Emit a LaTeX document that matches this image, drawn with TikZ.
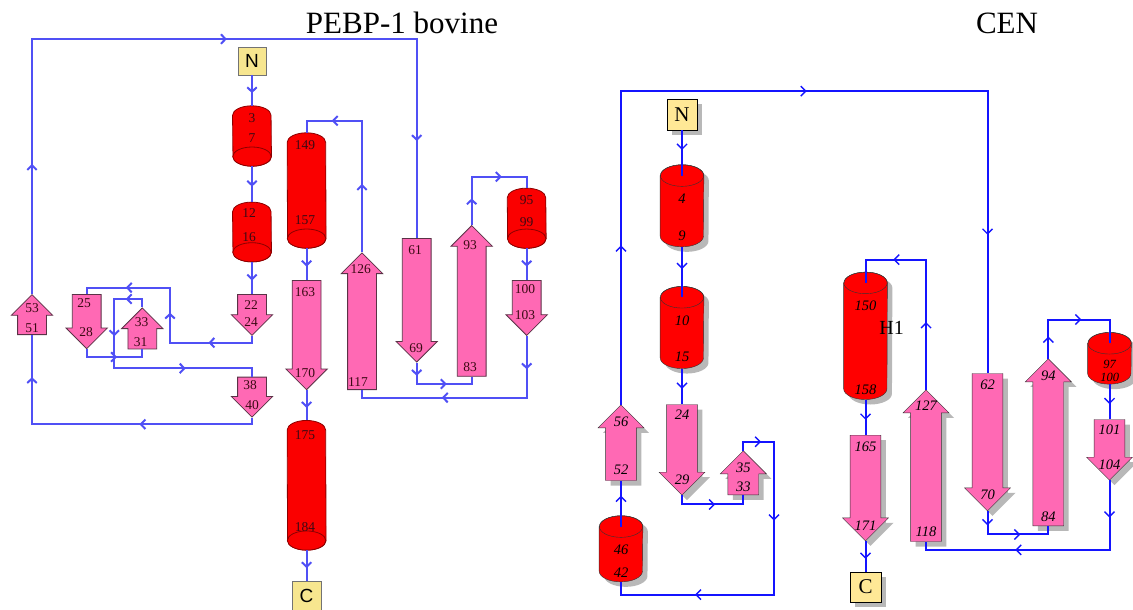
\documentclass[tikz,border=0pt]{standalone}
\usepackage{fontspec}
\setmainfont{Liberation Serif}
\newfontfamily\termsans{Liberation Sans}
\usetikzlibrary{shapes.arrows,shadows,arrows.meta}

\definecolor{lblue}{RGB}{80,80,245}
\definecolor{rblue}{RGB}{20,20,255}
\definecolor{hred}{RGB}{250,0,0}
\definecolor{spink}{RGB}{255,105,180}
\definecolor{tyellow}{RGB}{255,232,150}
\definecolor{lyellow}{RGB}{247,230,143}
\definecolor{lnumcol}{RGB}{60,10,20}

\begin{document}
\begin{tikzpicture}
  [x=1pt, y=-1pt,
   lflow/.style={color=lblue, line width=2pt},
   rflow/.style={color=rblue, line width=2pt},
   tipat/.style={pos=#1, sloped, allow upside down},
   ltip/.pic={\draw[lblue, line width=2pt, -{Straight Barb[length=4.5pt,width=9.5pt]}] (-3pt,0pt) -- (2.5pt,0pt);},
   rtip/.pic={\draw[rblue, line width=1.4pt, -{Straight Barb[length=5pt,width=10pt]}] (-3pt,0pt) -- (2.5pt,0pt);},
   rshadow/.style={drop shadow={shadow xshift=5pt, shadow yshift=-5pt, fill=black!28, opacity=1}},
   lhelix/.style={rectangle, minimum width=38.5pt, minimum height=#1, inner sep=0pt},
   rhelix/.style={rectangle, minimum width=43.3pt, minimum height=#1, inner sep=0pt},
   lcyl/.style={draw={rgb,255:red,140;green,0;blue,0}, thick, fill=hred},
   rcyl/.style={draw=black!80, fill=red},
   lsheet/.style={single arrow, draw={rgb,255:red,90;green,50;blue,70}, thick, fill=spink, inner xsep=0pt, inner ysep=14pt, single arrow head extend=6.3pt, minimum width=40.6pt, minimum height=#1, anchor=tail},
   ldown/.style={lsheet=#1, rotate=-90},
   lup/.style={lsheet=#1, rotate=90},
   rsheet/.style={single arrow, draw=black!80, fill=spink, inner xsep=0pt, inner ysep=15.2pt, single arrow head extend=7.6pt, minimum width=45.6pt, minimum height=#1, anchor=tail, rshadow},
   rdown/.style={rsheet=#1, rotate=-90},
   rup/.style={rsheet=#1, rotate=90},
   lterm/.style={rectangle, draw=black!55, fill=lyellow, minimum size=28.5pt, inner sep=0pt, font=\fontsize{19}{19}\selectfont\termsans},
   rterm/.style={rectangle, draw=black, fill=tyellow, minimum size=30.6pt, inner sep=0pt, font=\fontsize{21}{21}\selectfont, rshadow},
   lnum/.style={inner sep=0pt, text=lnumcol, font=\fontsize{13.5}{13.5}\selectfont},
   rnum/.style={inner sep=0pt, font=\fontsize{14.5}{14.5}\selectfont\itshape}]

  \useasboundingbox (0,0) rectangle (1133,610);

  %%%%%%%%%%%%%%%%%%%%%% PEBP-1 bovine %%%%%%%%%%%%%%%%%%%%%%

  \node[font=\fontsize{31}{31}\selectfont] (ttl_l) at (402,23) {PEBP-1 bovine};

  \node[lterm] (lN) at (252,61) {N};
  \node[lhelix=60]    (lh_3)   at (252,136)     {};
  \node[lhelix=59.4]  (lh_12)  at (252,232)     {};
  \node[lhelix=115]   (lh_149) at (306.6,190.5) {};
  \node[lhelix=129.3] (lh_175) at (306.6,485.3) {};
  \node[lhelix=59.7]  (lh_95)  at (526.7,218.2) {};
  \node[ldown=41]     (ls_22)  at (252,294)     {};
  \node[ldown=54.3]   (ls_25)  at (86.7,294)    {};
  \node[ldown=40]     (ls_38)  at (252,376.7)   {};
  \node[ldown=109.3]  (ls_163) at (306.6,280)   {};
  \node[ldown=123.7]  (ls_61)  at (416.7,238)   {};
  \node[ldown=55]     (ls_100) at (526.7,280)   {};
  \node[lup=41]       (ls_33)  at (142.3,349.3) {};
  \node[lup=40]       (ls_53)  at (32,335)      {};
  \node[lup=136.7]    (ls_126) at (362,390)     {};
  \node[lup=150.7]    (ls_93)  at (471.7,376.7) {};
  \node[lterm] (lC) at (306.6,595.5) {C};

  % helices seen from below
  \foreach \h in {lh_3,lh_12,lh_149,lh_175,lh_95}{
    \draw[lcyl] ([yshift=-9.6pt]\h.north west) arc[start angle=180, end angle=0, x radius=19.25pt, y radius=9.6pt]
      -- ([yshift=9.6pt]\h.south east) arc[start angle=0, end angle=-180, x radius=19.25pt, y radius=9.6pt] -- cycle;
    \draw[lcyl] ([yshift=9.6pt]\h.south) ellipse[x radius=19.25pt, y radius=9.6pt];
  }

  \foreach \t/\x/\y in {3/252/118, 7/252/138, 12/249/213, 16/249/237, 22/251/305, 24/251/321.7,
      25/84/303.3, 28/86/331.7, 33/141.7/321.7, 31/140.7/341.7, 38/250/385, 40/252/405,
      53/32/308.3, 51/32/328.3, 149/305/145, 157/305/220, 163/305/292.3, 170/305/373.3,
      126/360.7/269.3, 117/358/381.7, 61/415/250, 69/416/348.3, 93/470/245, 83/470/366.7,
      95/526.7/200, 99/526.7/221.7, 100/525/289.3, 103/525/315, 175/305/435, 184/305/526.7}
    \node[lnum] (lt_\t) at (\x,\y) {\t};

  \draw[lflow] (lN.south) -- pic[tipat=.5]{ltip} (lh_3.north);
  \draw[lflow] (lh_3.south) -- pic[tipat=.5]{ltip} (lh_12.north);
  \draw[lflow] (lh_12.south) -- pic[tipat=.5]{ltip} (ls_22.tail);
  \draw[lflow] (ls_22.tip) -- ++(0,6.7) -| pic[tipat=.25]{ltip} pic[tipat=.75]{ltip} ++(-82,-55)
    -| pic[tipat=.25]{ltip} (ls_25.tail);
  \draw[lflow] (ls_25.tip) -- ++(0,7.7) -| pic[tipat=.25]{ltip} (ls_33.tail);
  \draw[lflow] (ls_33.tip) -- ++(0,-8.3) -| pic[tipat=.25]{ltip} pic[tipat=.75]{ltip} ++(-28,69.3)
    -| pic[tipat=.25]{ltip} (ls_38.tail);
  \draw[lflow] (ls_38.tip) -- ++(0,6.6) -| pic[tipat=.25]{ltip} pic[tipat=.75]{ltip} (ls_53.tail);
  \draw[lflow] (ls_53.tip) -- pic[tipat=.5]{ltip} ++(0,-255) -| pic[tipat=.25]{ltip} pic[tipat=.75]{ltip} (ls_61.tail);
  \draw[lflow] (ls_61.tip) -- pic[tipat=.5]{ltip} ++(0,21.3) -| pic[tipat=.25]{ltip} (ls_93.tail);
  \draw[lflow] (ls_93.tip) -- pic[tipat=.5]{ltip} ++(0,-48.3) -| pic[tipat=.25]{ltip} (lh_95.north);
  \draw[lflow] (lh_95.south) -- pic[tipat=.5]{ltip} (ls_100.tail);
  \draw[lflow] (ls_100.tip) -- pic[tipat=.5]{ltip} ++(0,61.7) -| pic[tipat=.25]{ltip} (ls_126.tail);
  \draw[lflow] (ls_126.tip) -- pic[tipat=.5]{ltip} ++(0,-131.6) -| pic[tipat=.25]{ltip} (lh_149.north);
  \draw[lflow] (lh_149.south) -- pic[tipat=.5]{ltip} (ls_163.tail);
  \draw[lflow] (ls_163.tip) -- pic[tipat=.5]{ltip} (lh_175.north);
  \draw[lflow] (lh_175.south) -- pic[tipat=.5]{ltip} (lC.north);

  %%%%%%%%%%%%%%%%%%%%%% CEN %%%%%%%%%%%%%%%%%%%%%%

  \node[font=\fontsize{31}{31}\selectfont] (ttl_r) at (1007,23) {CEN};

  \node[rterm] (rN) at (682,114.7) {N};
  \node[rhelix=81.7]  (rh_4)   at (682,205.8)    {};
  \node[rhelix=81.7]  (rh_10)  at (682,327.5)    {};
  \node[rhelix=65.7]  (rh_46)  at (621,548.8)    {};
  \node[rhelix=127]   (rh_150) at (865.5,335.8)  {};
  \node[rhelix=51.3]  (rh_97)  at (1109.5,358.3) {};
  \node[rdown=90.7]   (rs_24)  at (682,404.3)    {};
  \node[rdown=105.7]  (rs_165) at (865.5,435)    {};
  \node[rdown=137.4]  (rs_62)  at (987.5,373.3)  {};
  \node[rdown=60.7]   (rs_101) at (1109.5,419.3) {};
  \node[rup=44]       (rs_35)  at (743.3,495)    {};
  \node[rup=75.7]     (rs_56)  at (621,480.7)    {};
  \node[rup=151.7]    (rs_127) at (926,541.7)    {};
  \node[rup=167]      (rs_94)  at (1048.3,526)   {};
  \node[rterm] (rC) at (865.5,587) {C};

  % helices seen from above
  \foreach \h in {rh_4,rh_10,rh_46,rh_150,rh_97}{
    \draw[rcyl, rshadow] ([yshift=-10.8pt]\h.north west) -- ([yshift=10.8pt]\h.south west)
      arc[start angle=180, end angle=360, x radius=21.65pt, y radius=10.8pt] -- ([yshift=-10.8pt]\h.north east)
      arc[start angle=0, end angle=180, x radius=21.65pt, y radius=10.8pt] -- cycle;
    \draw[draw=black!80] ([yshift=-10.8pt]\h.north) ellipse[x radius=21.65pt, y radius=10.8pt];
  }

  \node[font=\fontsize{20}{20}\selectfont] (h_1) at (891.7,328.3) {H1};

  \foreach \t/\x/\y in {4/682/198.3, 9/682/236, 10/682/320.7, 15/682/357, 24/682/415, 29/682/479.3,
      35/743.3/467.7, 33/743.3/486.7, 46/621/550, 42/621/572.7, 56/621/421.7, 52/621/470,
      150/865.5/305.7, 158/865.5/389.3, 165/865.5/446.7, 171/865.5/526, 127/926/405.7, 118/926/531.7,
      62/987.5/385, 70/987.5/495, 94/1048.3/376, 84/1048.3/516.7, 101/1109.5/430, 104/1109.5/464.3}
    \node[rnum] (rt_\t) at (\x,\y) {\t};
  \node[rnum, font=\fontsize{12.5}{12.5}\selectfont\itshape] (rt_97) at (1109.7,364) {97};
  \node[rnum, font=\fontsize{12.5}{12.5}\selectfont\itshape] (rt_100) at (1109.7,377) {100};

  \draw[rflow] (rN.south) -- pic[tipat=.5]{rtip} (rh_4.north) -- ([yshift=-10.8pt]rh_4.north);
  \draw[rflow] (rh_4.south) -- pic[tipat=.5]{rtip} (rh_10.north) -- ([yshift=-10.8pt]rh_10.north);
  \draw[rflow] (rh_10.south) -- pic[tipat=.5]{rtip} (rs_24.tail);
  \draw[rflow] (rs_24.tip) -- ++(0,9) -| pic[tipat=.25]{rtip} (rs_35.tail);
  \draw[rflow] (rs_35.tip) -- ++(0,-8.7) -| pic[tipat=.25]{rtip} pic[tipat=.75]{rtip} ++(30.7,152.7)
    -| pic[tipat=.25]{rtip} (rh_46.south);
  \draw[rflow] ([yshift=-10.8pt]rh_46.north) -- (rh_46.north) -- pic[tipat=.5]{rtip} (rs_56.tail);
  \draw[rflow] (rs_56.tip) -- pic[tipat=.5]{rtip} ++(0,-313.3) -| pic[tipat=.25]{rtip} pic[tipat=.75]{rtip} (rs_62.tail);
  \draw[rflow] (rs_62.tip) -- pic[tipat=.5]{rtip} ++(0,23.3) -| pic[tipat=.25]{rtip} (rs_94.tail);
  \draw[rflow] (rs_94.tip) -- pic[tipat=.5]{rtip} ++(0,-39) -| pic[tipat=.25]{rtip} (rh_97.north)
    -- ([yshift=-10.8pt]rh_97.north);
  \draw[rflow] (rh_97.south) -- pic[tipat=.5]{rtip} (rs_101.tail);
  \draw[rflow] (rs_101.tip) -- pic[tipat=.5]{rtip} ++(0,69.3) -| pic[tipat=.25]{rtip} (rs_127.tail);
  \draw[rflow] (rs_127.tip) -- pic[tipat=.5]{rtip} ++(0,-130) -| pic[tipat=.25]{rtip} (rh_150.north)
    -- ([yshift=-10.8pt]rh_150.north);
  \draw[rflow] (rh_150.south) -- pic[tipat=.5]{rtip} (rs_165.tail);
  \draw[rflow] (rs_165.tip) -- pic[tipat=.5]{rtip} (rC.north);

\end{tikzpicture}
\end{document}
